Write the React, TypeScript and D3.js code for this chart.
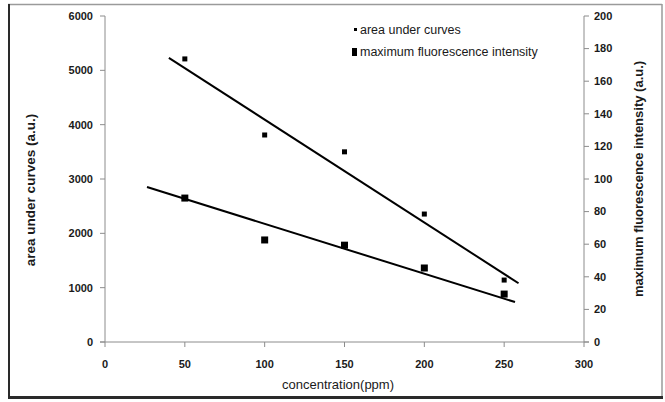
import React from "react";
import * as d3 from "d3";

// Concentration (ppm) at which each sample was measured
const concentrations = [50, 100, 150, 200, 250];
// Area under the emission curves (a.u.), left axis
const areaUnderCurves = [5210, 3810, 3500, 2355, 1140];
// Maximum fluorescence intensity (a.u.), right axis
const maxIntensity = [88.3, 62.6, 59.4, 45.4, 29.4];

// Linear trend lines: [slope, intercept] and the concentration span drawn
const areaTrend = [-18.94, 5987];
const areaTrendSpan = [40, 259];
const intensityTrend = [-0.306, 103.1];
const intensityTrendSpan = [26.3, 256.8];

const xTicks = [0, 50, 100, 150, 200, 250, 300];
const leftTicks = [0, 1000, 2000, 3000, 4000, 5000, 6000];
const rightTicks = [0, 20, 40, 60, 80, 100, 120, 140, 160, 180, 200];

const legendLabels = ["area under curves", "maximum fluorescence intensity"];

const W = 665;
const H = 402;
const plot = { left: 105, right: 584, top: 16, bottom: 342 };
const FONT = "'Liberation Sans', Arial, sans-serif";
const TXT = "#1a1a1a";
const AXIS = "#8c8c8c";

export default function App() {
  const x = d3.scaleLinear().domain([0, 300]).range([plot.left, plot.right]);
  const yL = d3.scaleLinear().domain([0, 6000]).range([plot.bottom, plot.top]);
  const yR = d3.scaleLinear().domain([0, 200]).range([plot.bottom, plot.top]);

  const trendLine = (
    coef: number[],
    span: number[],
    y: d3.ScaleLinear<number, number>
  ) =>
    d3
      .line<number>()
      .x((c) => x(c))
      .y((c) => y(coef[0] * c + coef[1]))(span) as string;

  return (
    <svg
      width={W}
      height={H}
      style={{ position: "absolute", left: 0, top: 0, background: "#fff" }}
      fontFamily={FONT}
    >
      <rect x={0} y={0} width={W} height={H} fill="#fff" />

      {/* chart area frame */}
      <line x1={8} y1={4.5} x2={662} y2={4.5} stroke="#9a9a9a" strokeWidth={1.5} />
      <line x1={662} y1={4} x2={662} y2={397} stroke="#9a9a9a" strokeWidth={1.5} />
      <line x1={9} y1={4} x2={9} y2={398} stroke="#2a2a2a" strokeWidth={2} />
      <line x1={8} y1={397.5} x2={663} y2={397.5} stroke="#2a2a2a" strokeWidth={3} />

      {/* axes */}
      <line x1={plot.left} y1={plot.top} x2={plot.left} y2={plot.bottom} stroke={AXIS} />
      <line x1={plot.right} y1={plot.top} x2={plot.right} y2={plot.bottom} stroke={AXIS} />
      <line x1={plot.left - 5} y1={plot.bottom} x2={plot.right + 5} y2={plot.bottom} stroke={AXIS} />

      {leftTicks.map((t) => (
        <g key={"l" + t}>
          <line x1={plot.left - 5} x2={plot.left} y1={yL(t)} y2={yL(t)} stroke={AXIS} />
          <text x={93} y={yL(t)} dy="0.35em" textAnchor="end" fontSize={11} fill={TXT} fontWeight="bold">
            {t}
          </text>
        </g>
      ))}

      {rightTicks.map((t) => (
        <g key={"r" + t}>
          <line x1={plot.right} x2={plot.right + 5} y1={yR(t)} y2={yR(t)} stroke={AXIS} />
          <text x={594} y={yR(t)} dy="0.35em" textAnchor="start" fontSize={11} fill={TXT} fontWeight="bold">
            {t}
          </text>
        </g>
      ))}

      {xTicks.map((t) => (
        <g key={"x" + t}>
          <line x1={x(t)} x2={x(t)} y1={plot.bottom} y2={plot.bottom + 5} stroke={AXIS} />
          <text x={x(t)} y={368} textAnchor="middle" fontSize={11} fill={TXT} fontWeight="bold">
            {t}
          </text>
        </g>
      ))}

      {/* axis titles */}
      <text x={338} y={389} textAnchor="middle" fontSize={13} fill={TXT}>
        concentration(ppm)
      </text>
      <text
        transform={`translate(35,${(plot.top + plot.bottom) / 2 + 11}) rotate(-90)`}
        textAnchor="middle"
        fontSize={13.5}
        fill={TXT}
        fontWeight="bold"
      >
        area under curves (a.u.)
      </text>
      <text
        transform={`translate(643,${(plot.top + plot.bottom) / 2}) rotate(-90)`}
        textAnchor="middle"
        fontSize={13}
        fill={TXT}
        fontWeight="bold"
      >
        maximum fluorescence intensity (a.u.)
      </text>

      {/* trend lines */}
      <path d={trendLine(areaTrend, areaTrendSpan, yL)} stroke="#000" strokeWidth={2} fill="none" />
      <path d={trendLine(intensityTrend, intensityTrendSpan, yR)} stroke="#000" strokeWidth={2} fill="none" />

      {/* data points */}
      {concentrations.map((c, i) => (
        <rect
          key={"a" + c}
          x={x(c) - 2.5}
          y={yL(areaUnderCurves[i]) - 2.5}
          width={5}
          height={5}
          fill="#000"
        />
      ))}
      {concentrations.map((c, i) => (
        <rect
          key={"m" + c}
          x={x(c) - 3.5}
          y={yR(maxIntensity[i]) - 3.5}
          width={7}
          height={7}
          fill="#000"
        />
      ))}

      {/* legend */}
      <rect x={354} y={28} width={3} height={3} fill="#000" />
      <text x={360} y={30} dy="0.35em" fontSize={12.5} fill={TXT}>
        {legendLabels[0]}
      </text>
      <rect x={352} y={48} width={5} height={8} fill="#000" />
      <text x={360} y={52} dy="0.35em" fontSize={12.5} fill={TXT}>
        {legendLabels[1]}
      </text>
    </svg>
  );
}
